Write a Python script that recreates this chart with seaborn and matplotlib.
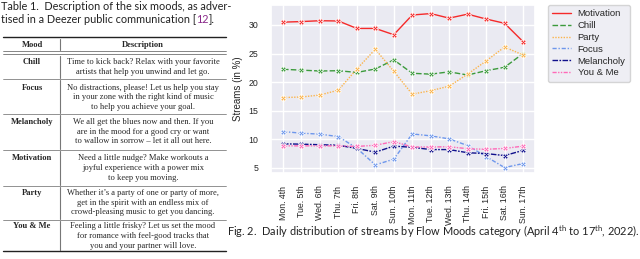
import matplotlib
matplotlib.use("Agg")
import matplotlib.pyplot as plt
from matplotlib.lines import Line2D
import numpy as np
import pandas as pd
import seaborn as sns

# ---------------- data ----------------
days = ["Mon. 4th", "Tue. 5th", "Wed. 6th", "Thu. 7th", "Fri. 8th", "Sat. 9th",
        "Sun. 10th", "Mon. 11th", "Tue. 12th", "Wed. 13th", "Thu. 14th",
        "Fri. 15th", "Sat. 16th", "Sun. 17th"]
motivation = [30.5, 30.6, 30.75, 30.7, 29.4, 29.4, 28.3, 31.75, 32.0, 31.2, 31.9, 31.05, 30.3, 27.1]
chill = [22.25, 22.1, 21.95, 22.0, 21.7, 22.3, 23.9, 21.55, 21.4, 21.8, 21.25, 22.0, 22.6, 25.0]
party = [17.3, 17.4, 17.75, 18.6, 22.3, 25.75, 21.9, 17.9, 18.5, 19.3, 21.4, 23.7, 26.15, 24.75]
focus = [11.35, 11.07, 10.9, 10.47, 8.44, 5.52, 6.52, 10.94, 10.6, 10.07, 8.9, 6.98, 5.05, 5.75]
melancholy = [9.2, 9.15, 9.05, 8.95, 8.4, 7.75, 8.8, 8.6, 8.2, 8.2, 7.65, 7.5, 7.15, 8.05]
you_me = [8.85, 8.85, 8.85, 8.85, 8.75, 8.95, 9.6, 8.65, 8.65, 8.7, 8.35, 8.25, 8.4, 8.8]
yticks = [5, 10, 15, 20, 25, 30]

moods = ["Motivation", "Chill", "Party", "Focus", "Melancholy", "You & Me"]
series = [motivation, chill, party, focus, melancholy, you_me]

table_moods = ["Chill", "Focus", "Melancholy", "Motivation", "Party", "You & Me"]
table_desc = [
    ["Time to kick back? Relax with your favorite",
     "artists that help you unwind and let go."],
    ["No distractions, please! Let us help you stay",
     "in your zone with the right kind of music",
     "to help you achieve your goal."],
    ["We all get the blues now and then. If you",
     "are in the mood for a good cry or want",
     "to wallow in sorrow \u2013 let it all out here."],
    ["Need a little nudge? Make workouts a",
     "joyful experience with a power mix",
     "to keep you moving."],
    ["Whether it\u2019s a party of one or party of more,",
     "get in the spirit with an endless mix of",
     "crowd-pleasing music to get you dancing."],
    ["Feeling a little frisky? Let us set the mood",
     "for romance with feel-good tracks that",
     "you and your partner will love."],
]

# ---------------- style ----------------
sns.set_theme(style="darkgrid")
plt.rcParams["font.family"] = ["Liberation Sans", "DejaVu Sans"]
plt.rcParams["mathtext.fontset"] = "custom"
plt.rcParams["mathtext.rm"] = "Lato"

palette = {"Motivation": "#f52a2a", "Chill": "#3b9a3b", "Party": "#fbb44c",
           "Focus": "#6e97ec", "Melancholy": "#10108c", "You & Me": "#ff6ab8"}
dashes = {"Motivation": "", "Chill": (4, 1.6), "Party": (1, 1),
          "Focus": (3, 1.3, 1, 1.3), "Melancholy": (4, 1, 1.2, 1),
          "You & Me": (3, 1, 1, 1, 1, 1)}
markers = {m: "X" for m in moods}

W, H = 640, 259
fig = plt.figure(figsize=(W / 100, H / 100), dpi=100)
renderer = fig.canvas.get_renderer()


def fx(x):
    return x / W


def fy(y):
    return 1 - y / H


def fit(t, target_px):
    """Scale a text's font size so that its rendered width is target_px."""
    for _ in range(3):
        w = t.get_window_extent(renderer).width
        t.set_fontsize(t.get_fontsize() * target_px / w)
    return t.get_fontsize()


# ---------------- chart ----------------
x_left, x_right, y_top, y_bot = 271, 535, 5, 173
ax = fig.add_axes([fx(x_left), fy(y_bot), (x_right - x_left) / W, (y_bot - y_top) / H])

pos = list(range(len(days)))
df = pd.concat([pd.DataFrame({"pos": pos, "value": s, "mood": m})
                for m, s in zip(moods, series)], ignore_index=True)

sns.lineplot(data=df, x="pos", y="value", hue="mood", style="mood",
             hue_order=moods, style_order=moods, palette=palette,
             dashes=dashes, markers=markers, legend=False, ax=ax,
             linewidth=1.0, markersize=4, markeredgecolor="white",
             markeredgewidth=0.5, sort=False)

ax.set_xticks(pos)
ax.set_xticklabels(days, rotation=90, fontsize=6.3)
ax.set_yticks(yticks)
ax.set_yticklabels([str(t) for t in yticks], fontsize=6.3)
ax.set_xlim(-0.65, len(days) - 1 + 0.65)
ax.set_ylim(4.1, 33.5)
ax.set_xlabel("")
ax.set_ylabel("Streams (in %)", fontsize=7, labelpad=4)
ax.tick_params(axis="both", pad=3)

handles = []
for m in moods:
    d = dashes[m]
    if d == "":
        h = Line2D([], [], color=palette[m], lw=1.0, linestyle="-")
    else:
        h = Line2D([], [], color=palette[m], lw=1.0, linestyle=(0, d))
    handles.append(h)
ax.legend(handles, moods, loc="upper left",
          bbox_to_anchor=((548 - x_left) / (x_right - x_left), 1.0),
          borderaxespad=0, fontsize=6.8, labelspacing=0.3,
          handlelength=2.0, handletextpad=0.7, borderpad=0.45, frameon=True)

# caption
cap = fig.text(fx(227), fy(232),
               "Fig. 2.  Daily distribution of streams by Flow Moods category "
               "(April 4$^{\\mathrm{th}}$ to 17$^{\\mathrm{th}}$, 2022).",
               family="Lato", fontsize=7.2, va="center", ha="left", color="#222222")
fit(cap, 409)

# ---------------- table ----------------
cap_kw = dict(family="Lato", fontsize=7.4, va="center", ha="left", color="#222222")
l1 = fig.text(fx(1), fy(6), "Table 1.  Description of the six moods, as adver-", **cap_kw)
cap_kw["fontsize"] = fit(l1, 229)
t1 = fig.text(fx(1), fy(19.5), "tised in a Deezer public communication [", **cap_kw)
bb = t1.get_window_extent(renderer)
t2 = fig.text(bb.x1 / W, fy(19.5), "12", **{**cap_kw, "color": "#8a2a8a"})
bb2 = t2.get_window_extent(renderer)
fig.text(bb2.x1 / W, fy(19.5), "].", **cap_kw)

serif = ["Liberation Serif", "DejaVu Serif"]
probe = fig.text(0, 0, table_desc[0][0], family=serif, fontsize=6)
tfs = fit(probe, 153)
probe.remove()

tx0, tx1, vx = 3, 226, 60
mood_x, desc_x = 32, 143


def hline(y, lw=0.6, color="#333333"):
    fig.add_artist(Line2D([fx(tx0), fx(tx1)], [fy(y), fy(y)], lw=lw, color=color,
                          transform=fig.transFigure))


def vline(y0, y1):
    fig.add_artist(Line2D([fx(vx), fx(vx)], [fy(y0), fy(y1)], lw=0.8, color="#777777",
                          transform=fig.transFigure))


hline(37, lw=1.0, color="#222222")
fig.text(fx(mood_x), fy(45), "Mood", family=serif, fontsize=tfs, weight="bold",
         ha="center", va="center")
fig.text(fx(desc_x), fy(45), "Description", family=serif, fontsize=tfs, weight="bold",
         ha="center", va="center")
hline(51.5, lw=0.5, color="#555555")
hline(53.5, lw=0.5, color="#555555")
vline(38.5, 50.5)

row_tops = [54.5, 79, 114, 150, 186, 219.5]
row_first = [62.5, 87.5, 122, 158.5, 193, 226.5]
rules = [79, 114, 150, 186, 219.5]
pitch = 9.6
for i, (mood, lines) in enumerate(zip(table_moods, table_desc)):
    y0 = row_first[i]
    fig.text(fx(mood_x), fy(y0), mood, family=serif, fontsize=tfs, weight="bold",
             ha="center", va="center")
    for j, ln in enumerate(lines):
        fig.text(fx(desc_x), fy(y0 + j * pitch), ln, family=serif, fontsize=tfs,
                 ha="center", va="center")
    bottom = rules[i] if i < len(rules) else 251
    vline(row_tops[i] + 1, bottom - 1)
for ry in rules:
    hline(ry, lw=0.5, color="#666666")
hline(251, lw=1.0, color="#222222")

fig.savefig("out.png", dpi=100)
